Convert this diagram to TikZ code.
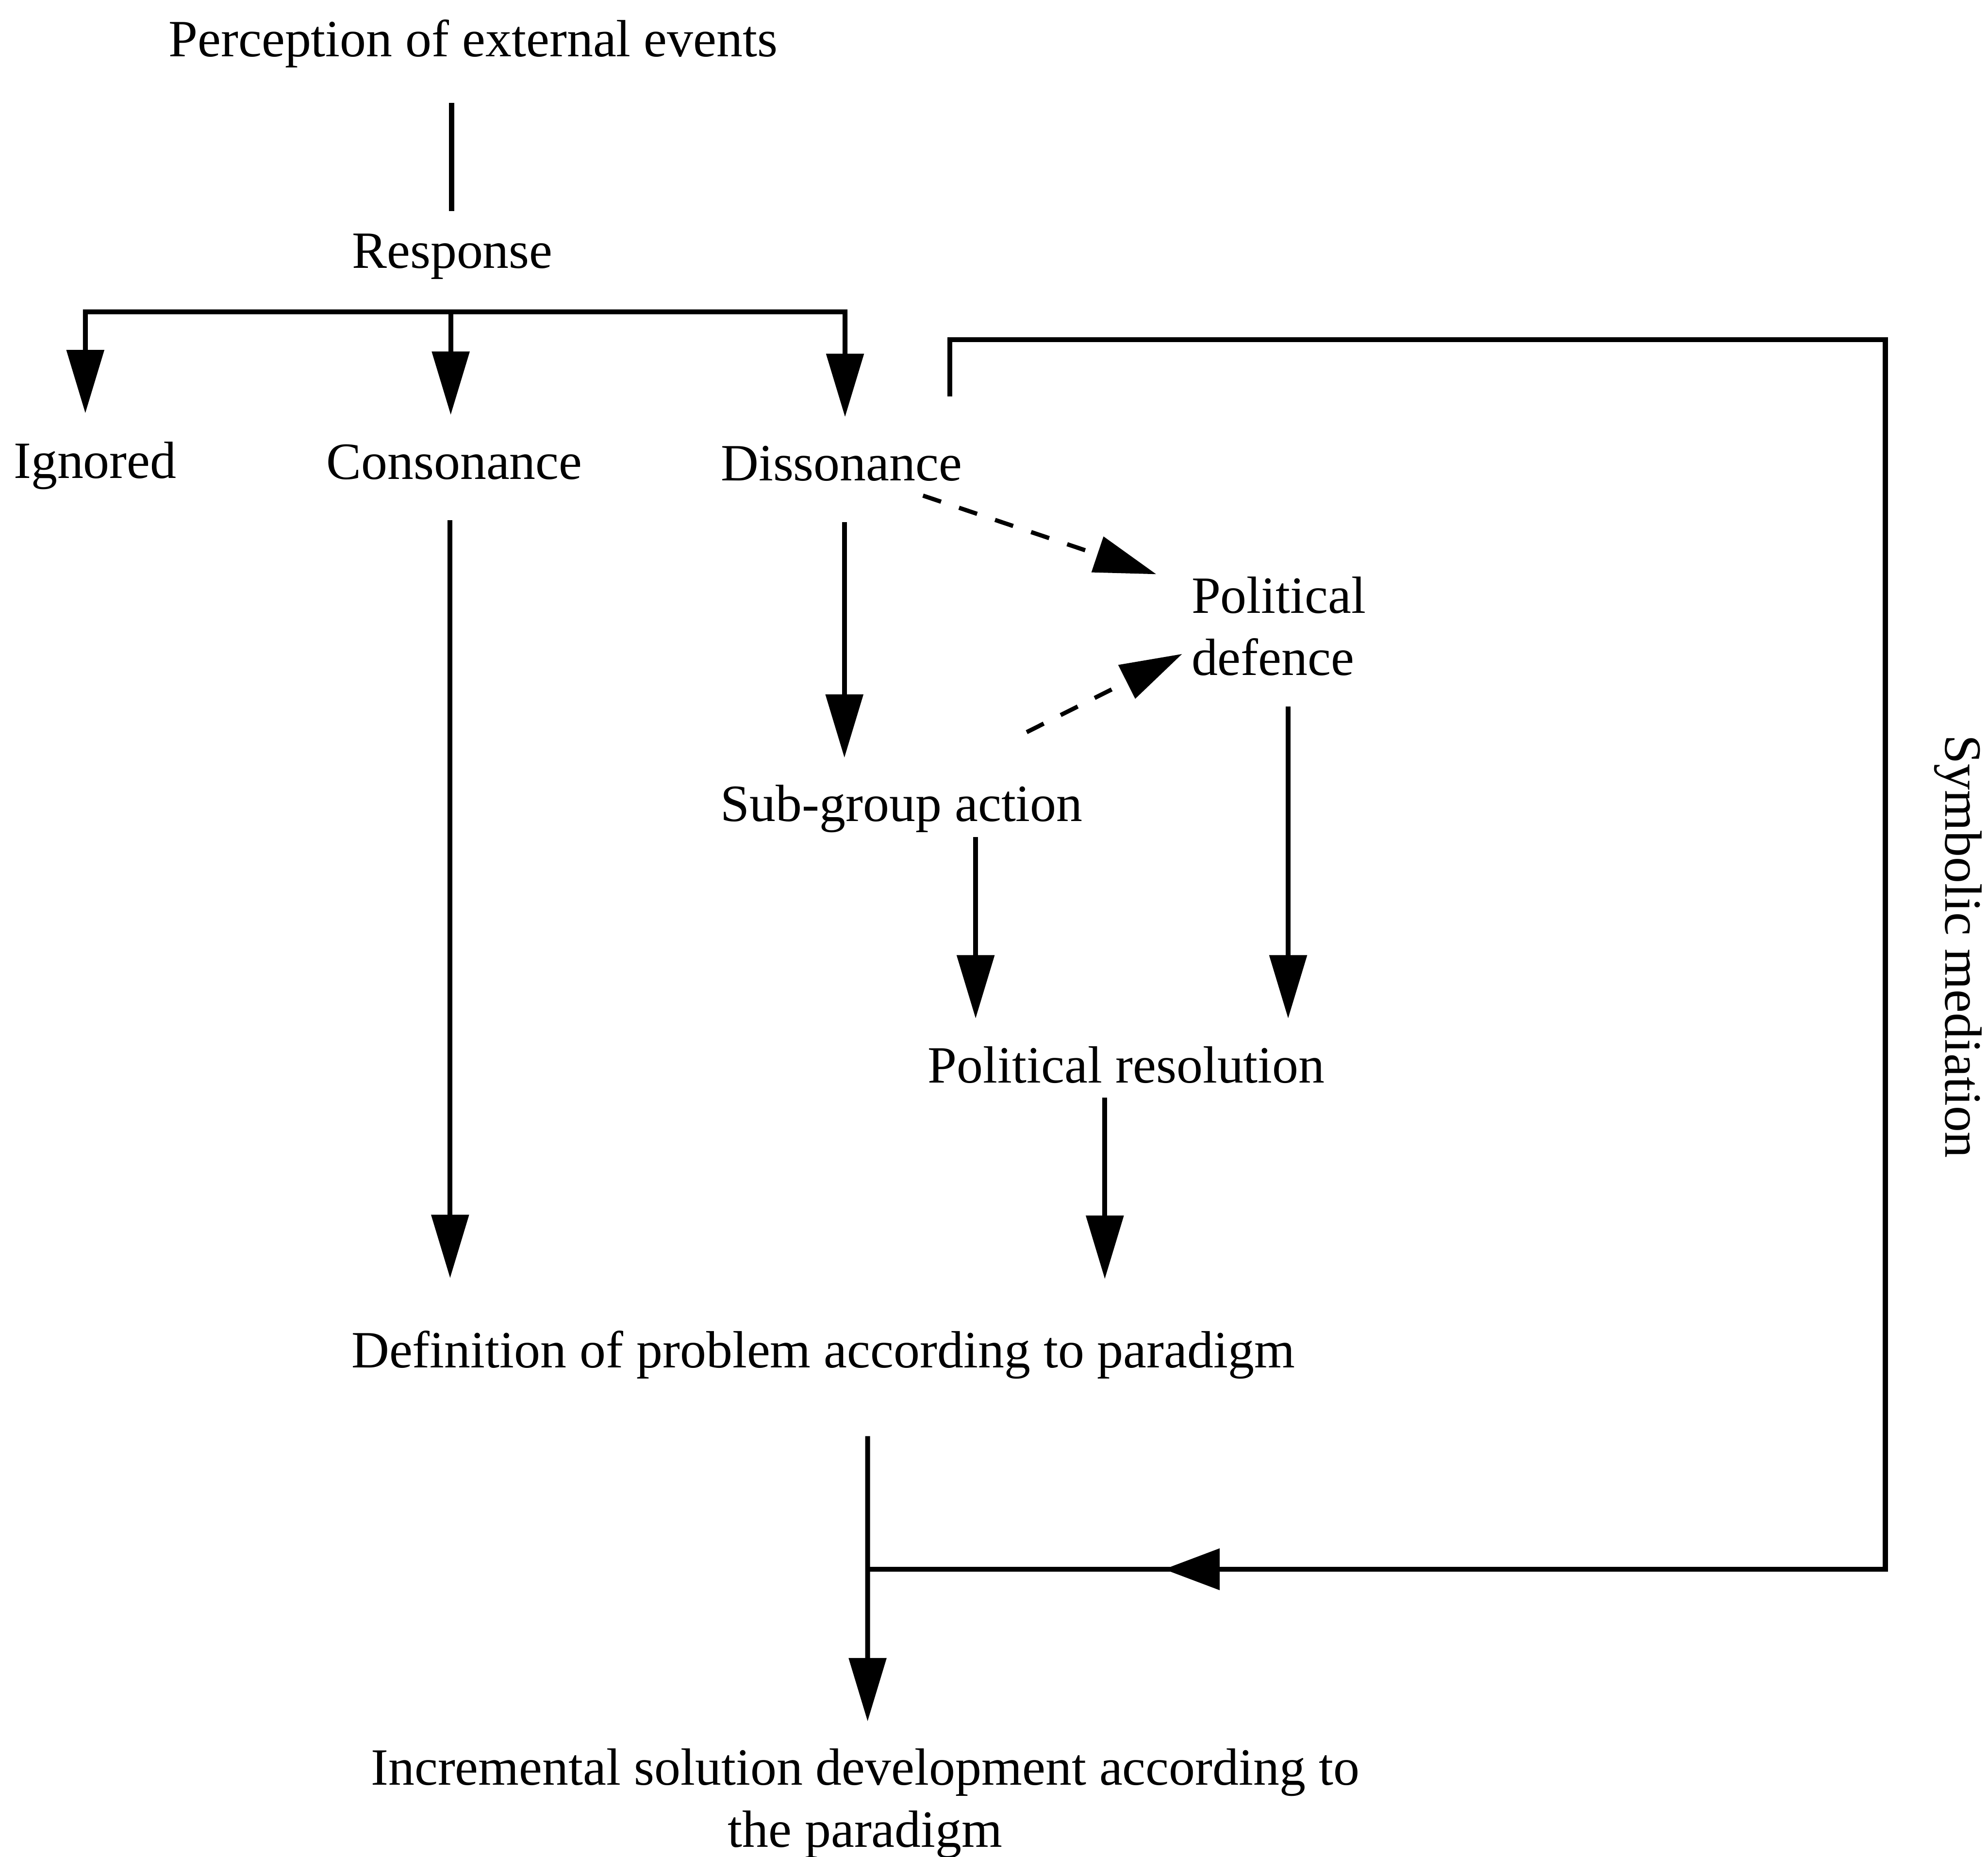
\documentclass[tikz,border=0pt]{standalone}
\usepackage{fontspec}
\setmainfont{Liberation Serif}
\usetikzlibrary{arrows.meta,calc}
\begin{document}
\begin{tikzpicture}[x=0.02cm, y=-0.02cm,
  every node/.style={inner sep=0pt, outer sep=0pt,
    font=\fontsize{23.5pt}{28pt}\selectfont},
  lbl/.style={anchor=base},
  line/.style={line width=2.2pt, line join=miter},
  arr/.style={line, -{Triangle[length=1cm, width=0.58cm]}},
  arrboth/.style={line, {Triangle[length=1cm, width=0.58cm]}-{Triangle[length=1cm, width=0.58cm]}},
  arrH/.style={line, -{Triangle[length=0.88cm, width=0.64cm]}},
  darr/.style={line width=1.9pt, dash pattern=on 0.3cm off 0.3cm,
    -{Triangle[length=0.98cm, width=0.58cm]}}]
\useasboundingbox (0,0) rectangle (1568,1465);

% labels
\node[lbl] (perc) at (373.2,44.7) {Perception of external events};
\node[lbl] (resp) at (356.8,211.4) {Response};
\node[lbl] (ign)  at (75,377.4) {Ignored};
\node[lbl] (cons) at (358.3,378) {Consonance};
\node[lbl] (diss) at (663.7,379) {Dissonance};
\node[anchor=base west] (pdef) at (939.8,483.5)
  {\begin{tabular}[t]{@{}l@{}}Political\\defence\end{tabular}};
\node[lbl] (subg) at (711.2,648) {Sub-group action};
\node[lbl] (pres) at (888.4,854.4) {Political resolution};
\node[lbl] (def)  at (649.3,1079) {Definition of problem according to paradigm};
\node[lbl] (inc)  at (682.4,1408)
  {\begin{tabular}[t]{@{}c@{}}Incremental solution development according to\\the paradigm\end{tabular}};
\node[anchor=base, rotate=-90] (symb) at (1534.5,746.8) {Symbolic mediation};

% perception to response
\draw[line] ($(perc.base)+(-17,36.5)$) -- ($(resp.base)+(-0.6,-44.7)$);

% response bus with its three branches
\coordinate (busL) at (67.3,246);
\coordinate (busR) at (666.5,246);
\draw[arrboth] ($(ign.base)+(-7.7,-51.4)$) -- (busL) -- (busR) -- ($(diss.base)+(2.8,-50)$);
\draw[arr] ($(busL -| cons.base)+(-2.8,0)$) -- ($(cons.base)+(-2.8,-50.7)$);

% main flow
\draw[arr] ($(cons.base)+(-3.3,32.5)$) -- ($(cons.base |- def.base)+(-3.3,-70.7)$);
\draw[arr] ($(diss.base)+(2.3,33)$) -- ($(diss.base |- subg.base)+(2.3,-50.2)$);
\draw[darr] ($(diss.base)+(64.3,12)$) -- ($(pdef.base west)+(-27.8,-30.5)$);
\draw[darr] ($(subg.base)+(98.6,-70.4)$) -- ($(pdef.base west)+(-7.4,32.4)$);
\draw[arr] ($(pdef.base west)+(76.2,74)$) -- ($(pdef.base west |- pres.base)+(76.2,-50.9)$);
\draw[arr] ($(subg.base)+(58.3,12.3)$) -- ($(subg.base |- pres.base)+(58.3,-50.9)$);
\draw[arr] ($(pres.base)+(-17,11.6)$) -- ($(pres.base |- def.base)+(-17,-70)$);
\draw[arr] ($(def.base)+(35,54)$) -- ($(inc.base)+(1.9,-50)$);

% symbolic mediation loop
\coordinate (join) at ($(def.base)+(35,159)$);
\coordinate (loopNE) at (1487,268);
\coordinate (loopSE) at (1487,1238);
\coordinate (loopTip) at (918,1238);
\draw[line] ($(diss.base)+(85.6,-66.3)$) |- (loopNE) -- (loopSE) -- (join);
\draw[arrH] (loopSE) -- (loopTip);
\end{tikzpicture}
\end{document}
